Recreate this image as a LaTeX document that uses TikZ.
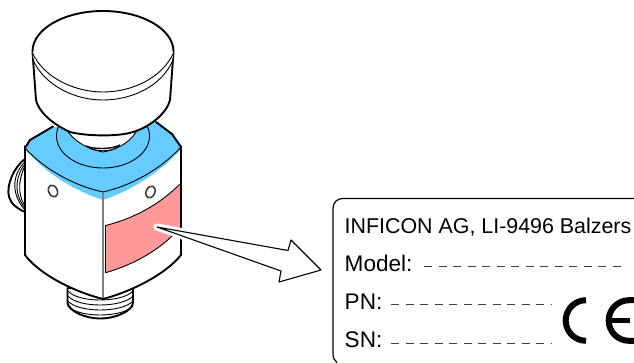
\documentclass[tikz,border=0pt]{standalone}
\usepackage{fontspec}
\setmainfont{Liberation Sans}
\definecolor{topblue}{RGB}{102,204,255}
\definecolor{plate}{RGB}{255,153,153}
\tikzset{
  thick line/.style={line width=1.9pt,line join=round,line cap=round},
  thin line/.style={line width=0.9pt,line join=round,line cap=round},
  lbl/.style={anchor=base west,inner sep=0pt,font=\fontsize{21.4}{22}\selectfont},
  lblb/.style={anchor=base west,inner sep=0pt,font=\fontsize{22.6}{23}\selectfont},
  fill dash/.style={line width=0.9pt,dash pattern=on 8pt off 6.5pt,black!75},
  ce/.style={line width=6pt,line cap=butt}
}
\begin{document}
\begin{tikzpicture}[x=1pt,y=-1pt]
\useasboundingbox (0,0) rectangle (634,362);
\fill[white] (0,0) rectangle (634,362);
% left fitting
\filldraw[fill=white,thick line] (25,159) .. controls (14,167) and (6,185) .. (9,197) .. controls (11,204) and (18,209) .. (25,212);
\draw[thin line] (25,162) .. controls (14,172) and (9,192) .. (25,210);
\draw[thin line] (25,164) .. controls (17,174) and (12,192) .. (25,208);
\draw[thin line] (25,166) .. controls (20,176) and (16,192) .. (25,206);
% bottom fitting
\filldraw[fill=white,thick line] (67.5,288) -- (67.5,303) .. controls (69,311) and (85,318.5) .. (100,318.5) .. controls (116,318.5) and (132,311) .. (133,303) -- (133,288) -- cycle;
\foreach \d in {0,5,10,15}{
  \draw[thin line] (68,291+\d) .. controls (78,303+\d) and (122,303+\d) .. (133,291+\d);
}
% body
\filldraw[fill=white,thick line] (25,148) -- (25,255) .. controls (40,275) and (75,292) .. (103,299) .. controls (130,292) and (165,275) .. (181,255) -- (181,148) -- cycle;
% blue top
\fill[topblue] (25,148) -- (30,140) -- (52,127) -- (158,122) -- (172,134) -- (181,147) -- (181,149) .. controls (160,173) and (130,191) .. (103,200) .. controls (75,191) and (45,173) .. (25,149) -- cycle;
\draw[thick line] (25,148) -- (30,140) -- (53,126.5);
\draw[thick line] (156,122) -- (172,134) -- (181,147);
\draw[thin line] (25,148) .. controls (45,170) and (75,186) .. (103,192) .. controls (130,186) and (160,170) .. (181,147);
\draw[line width=1.6pt,black!50] (103,193) -- (103,298);
\draw[thick line] (25,146) -- (25,165);
% ring
\draw[thin line] (103,136) ellipse [x radius=46.5,y radius=32];
% stem
\filldraw[fill=white,thin line] (66,128) .. controls (72,140) and (85,148) .. (103,152) .. controls (120,149) and (133,140) .. (138,128) -- cycle;
\draw[line width=1.4pt] (86,146) .. controls (93,149.5) and (112,149.5) .. (120,145);
\draw[thin line] (88,147) .. controls (93,152) and (112,152) .. (118,147);
% cap
\fill[white] (32.5,52) -- (36,100) .. controls (38,110) and (50,123) .. (70,132) .. controls (85,136) and (118,137) .. (133,132) .. controls (150,127) and (167,113) .. (170,100) -- (173.5,52) -- cycle;
\draw[thick line] (32.5,52) -- (36,100) .. controls (38,110) and (50,123) .. (70,132) .. controls (85,136) and (118,137) .. (133,132) .. controls (150,127) and (167,113) .. (170,100) -- (173.5,52);
\fill[white] (103,51.5) ellipse [x radius=70.5,y radius=40.5];
\draw[thick line] (32.5,51.5) arc[start angle=180,end angle=360,x radius=70.5,y radius=40.5];
\draw[thin line] (32.5,53) .. controls (44,78) and (75,92) .. (103,92) .. controls (132,92) and (162,78) .. (173.5,53);
\draw[thin line] (33,60) .. controls (45,86) and (75,100) .. (103,100) .. controls (132,100) and (162,86) .. (173,60);
% red plate
\fill[plate] (106,225.5) .. controls (135,218) and (160,204) .. (180,184) -- (180,228) .. controls (160,250) and (135,264) .. (106,272.7) -- cycle;
\draw[thin line] (105.7,225.5) -- (105.7,272.7);
\draw[thin line] (105.7,225.5) .. controls (135,218) and (160,204) .. (180,184);
\draw[thin line] (105.7,272.7) .. controls (135,264) and (160,250) .. (180,228);
\draw[thick line] (181,146) -- (181,255);
% holes
\draw[line width=1.6pt,black!75,fill=white] (53,191) ellipse [x radius=4.3,y radius=6.2,rotate=25];
\draw[line width=1.6pt,black!75,fill=white] (150.5,192) ellipse [x radius=4.3,y radius=6.2,rotate=-25];
% arrow
\coordinate (tip) at (157,227);
\coordinate (a1) at (288,250.5);
\coordinate (a2) at (291,240);
\coordinate (a3) at (321,270);
\coordinate (a4) at (279,282);
\coordinate (a5) at (281,271);
\filldraw[draw=white,fill=white,line width=7pt,line join=round] (tip) -- (a1) -- (a5) -- cycle;
\filldraw[fill=white,draw=black,line width=1.1pt,line join=round] (tip) -- (a1) -- (a2) -- (a3) -- (a4) -- (a5) -- cycle;
% label plate
\draw[line width=1.2pt] (634,198.5) -- (343,198.5) .. controls (337,198.5) and (333,202.5) .. (333,208.5) -- (333,354) .. controls (333,358) and (334.5,360.5) .. (337,362.5);
\node[lbl] (l1) at (344.5,233) {INFICON AG, LI-9496 Balzers};
\node[lblb] (l2) at (344.5,271) {Model:};
\node[lblb] (l3) at (344.5,309) {PN:};
\node[lblb] (l4) at (344.5,347) {SN:};
\draw[fill dash] (424,266) -- (627,266);
\draw[fill dash] (391,304) -- (552,304);
\draw[fill dash] (391,343) -- (552,343);
% CE mark
\draw[ce] (586,300.2) arc[start angle=-90,end angle=-270,radius=20.3];
\draw[ce] (634,300.2) -- (629,300.2) arc[start angle=-90,end angle=-270,radius=20.3] -- (634,340.8);
\draw[line width=5pt] (609,320.5) -- (630,320.5);
\end{tikzpicture}
\end{document}
